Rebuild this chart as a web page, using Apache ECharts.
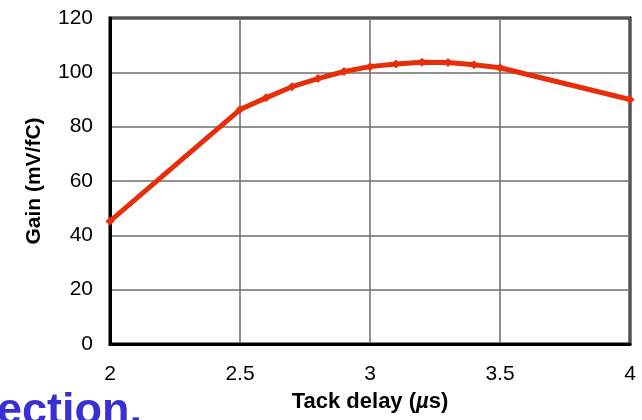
<!DOCTYPE html>
<html>
<head>
<meta charset="utf-8">
<script src="https://cdn.jsdelivr.net/npm/echarts@6/dist/echarts.min.js"></script>
<style>
  html, body { margin: 0; padding: 0; background: #fff; }
  #chart { width: 642px; height: 420px; }
</style>
</head>
<body>
<div id="chart"></div>
<script>
// Tack delay (µs) vs. gain (mV/fC)
const tackDelay = [2.0, 2.5, 2.6, 2.7, 2.8, 2.9, 3.0, 3.1, 3.2, 3.3, 3.4, 3.5, 4.0];
const gain      = [45.2, 86.3, 90.6, 94.7, 97.7, 100.3, 102.1, 103.1, 103.7, 103.6, 102.8, 101.7, 90.0];
const xTicks = [2, 2.5, 3, 3.5, 4];
const yTicks = [0, 20, 40, 60, 80, 100, 120];

const points = tackDelay.map((x, i) => [x, gain[i]]);
const font = '"Liberation Sans", Arial, Helvetica, sans-serif';

const chart = echarts.init(document.getElementById('chart'), null, { renderer: 'canvas' });
chart.setOption({
  animation: false,
  backgroundColor: '#ffffff',
  grid: {
    left: 110, right: 12, top: 18, bottom: 76,
    show: true, borderColor: '#000', borderWidth: 3, backgroundColor: 'transparent'
  },
  xAxis: {
    type: 'value',
    min: xTicks[0], max: xTicks[xTicks.length - 1], interval: 0.5,
    axisLine: { show: true, lineStyle: { color: '#000', width: 3 } },
    axisTick: { show: false },
    splitLine: { show: true, lineStyle: { color: '#6e6e6e', width: 1.5 } },
    axisLabel: {
      margin: 20, color: '#000', fontSize: 21, fontFamily: font,
      formatter: v => String(v)
    },
    name: '{b|Tack delay (}{i|µ}{b|s)}',
    nameLocation: 'middle', nameGap: 47,
    nameTextStyle: {
      rich: {
        b: { fontSize: 22, fontWeight: 'bold', fontFamily: font, color: '#000' },
        i: { fontSize: 22, fontWeight: 'bold', fontStyle: 'italic', fontFamily: font, color: '#000' }
      }
    }
  },
  yAxis: {
    type: 'value',
    min: yTicks[0], max: yTicks[yTicks.length - 1], interval: 20,
    axisLine: { show: true, lineStyle: { color: '#000', width: 3 } },
    axisTick: { show: false },
    splitLine: { show: true, lineStyle: { color: '#6e6e6e', width: 1.5 } },
    axisLabel: { margin: 17, color: '#000', fontSize: 21, fontFamily: font },
    name: 'Gain (mV/fC)',
    nameLocation: 'middle', nameGap: 65,
    nameTextStyle: { fontSize: 21, fontWeight: 'bold', fontFamily: font, color: '#000' }
  },
  series: [{
    type: 'line',
    data: points,
    smooth: false,
    symbol: 'diamond',
    symbolSize: 9,
    showAllSymbol: true,
    lineStyle: { color: '#e62e0b', width: 5, cap: 'round', join: 'round' },
    itemStyle: { color: '#e62e0b' },
    z: 5
  }],
  graphic: [{
    type: 'text',
    left: -3, top: 389,
    style: {
      text: 'ection.',
      fill: '#3a2fd2',
      font: 'bold 45px ' + font
    }
  }]
});
</script>
</body>
</html>
